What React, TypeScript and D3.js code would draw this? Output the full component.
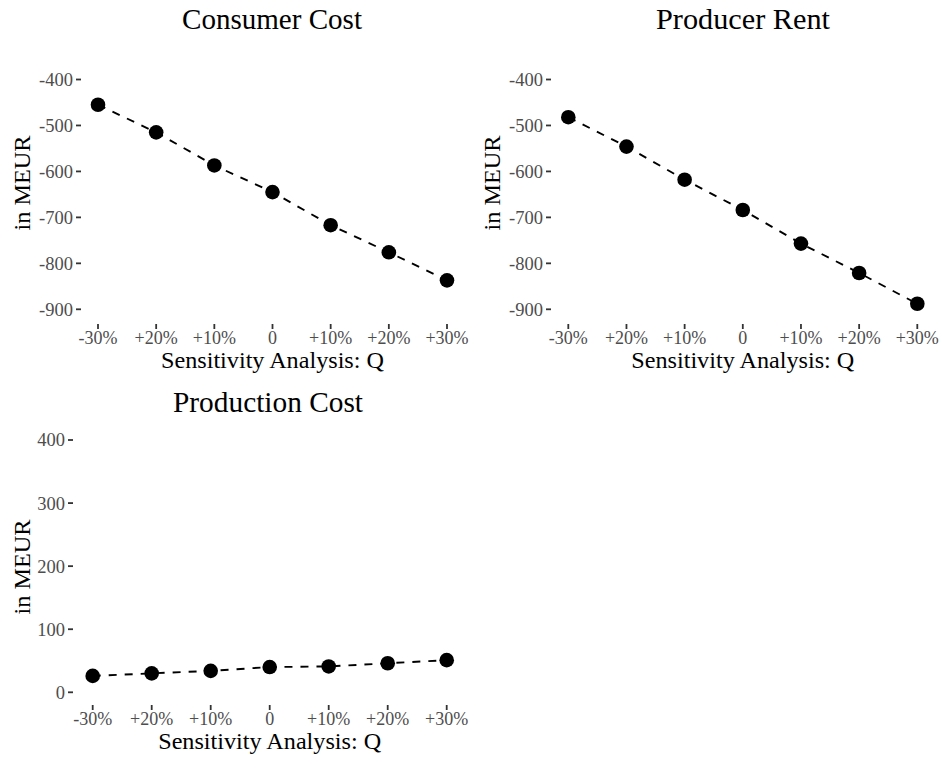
import React from "react";
import * as d3 from "d3";

const categories = ["-30%", "+20%", "+10%", "0", "+10%", "+20%", "+30%"];
const consumerCost = [-455, -515, -587, -645, -717, -776, -837];
const producerRent = [-482, -546, -618, -684, -757, -821, -888];
const productionCost = [26, 30, 34, 40, 41, 46, 51];
const negTicks = [-400, -500, -600, -700, -800, -900];
const posTicks = [0, 100, 200, 300, 400];

const FONT = "Liberation Serif";

type PanelProps = {
  title: string;
  values: number[];
  ticks: number[];
  yDomain: [number, number];
  yRange: [number, number];
  xRange: [number, number];
  axisX: number;
  xAxisY: number;
  titleX: number;
  titleY: number;
  titleW: number;
  yTitleX: number;
  yTitleY: number;
};

function Panel(p: PanelProps) {
  const idx = categories.map((_, i) => i);
  const x = d3.scalePoint<number>().domain(idx).range(p.xRange);
  const y = d3.scaleLinear().domain(p.yDomain).range(p.yRange);
  const line = d3
    .line<number>()
    .x((_, i) => x(i) as number)
    .y((d) => y(d));
  const xMid = (p.xRange[0] + p.xRange[1]) / 2;
  return (
    <g>
      <text
        x={p.titleX}
        y={p.titleY}
        textAnchor="middle"
        fontSize={29}
        fontFamily={FONT}
        fill="#000"
        textLength={p.titleW}
        lengthAdjust="spacingAndGlyphs"
      >
        {p.title}
      </text>
      {p.ticks.map((t) => (
        <g key={t}>
          <line x1={p.axisX - 5} x2={p.axisX} y1={y(t)} y2={y(t)} stroke="#333" strokeWidth={1.8} />
          <text
            x={p.axisX - 8}
            y={y(t)}
            dy="0.35em"
            textAnchor="end"
            fontSize={18.5}
            fontFamily={FONT}
            fill="#4d4d4d"
          >
            {t}
          </text>
        </g>
      ))}
      {categories.map((c, i) => (
        <g key={i}>
          <line
            x1={x(i)}
            x2={x(i)}
            y1={p.xAxisY}
            y2={p.xAxisY + 5}
            stroke="#333"
            strokeWidth={1.8}
          />
          <text
            x={x(i)}
            y={p.xAxisY + 20}
            textAnchor="middle"
            fontSize={18}
            fontFamily={FONT}
            fill="#4d4d4d"
          >
            {c}
          </text>
        </g>
      ))}
      <text
        x={xMid}
        y={p.xAxisY + 44}
        textAnchor="middle"
        fontSize={24}
        fontFamily={FONT}
        fill="#000"
        textLength={223}
        lengthAdjust="spacingAndGlyphs"
      >
        Sensitivity Analysis: Q
      </text>
      <text
        transform={`translate(${p.yTitleX},${p.yTitleY}) rotate(-90)`}
        textAnchor="middle"
        fontSize={24}
        fontFamily={FONT}
        fill="#000"
        textLength={95}
        lengthAdjust="spacingAndGlyphs"
      >
        in MEUR
      </text>
      <path
        d={line(p.values) || ""}
        fill="none"
        stroke="#000"
        strokeWidth={1.9}
        strokeDasharray="8,8"
      />
      {p.values.map((v, i) => (
        <circle key={i} cx={x(i)} cy={y(v)} r={7.3} fill="#000" />
      ))}
    </g>
  );
}

export default function App() {
  return (
    <svg
      width={941}
      height={760}
      style={{ position: "absolute", left: 0, top: 0, background: "#fff" }}
    >
      <rect width={941} height={760} fill="#fff" />
      <Panel
        title="Consumer Cost"
        values={consumerCost}
        ticks={negTicks}
        yDomain={[-400, -900]}
        yRange={[79.5, 309.3]}
        xRange={[98, 447]}
        axisX={81}
        xAxisY={324}
        titleX={272}
        titleY={29}
        titleW={180}
        yTitleX={30}
        yTitleY={183}
      />
      <Panel
        title="Producer Rent"
        values={producerRent}
        ticks={negTicks}
        yDomain={[-400, -900]}
        yRange={[79.5, 309.3]}
        xRange={[568.3, 917.3]}
        axisX={551}
        xAxisY={324}
        titleX={743}
        titleY={29}
        titleW={174}
        yTitleX={500}
        yTitleY={183}
      />
      <Panel
        title="Production Cost"
        values={productionCost}
        ticks={posTicks}
        yDomain={[0, 400]}
        yRange={[692.3, 440]}
        xRange={[92.7, 446.7]}
        axisX={73}
        xAxisY={705}
        titleX={268}
        titleY={412}
        titleW={190}
        yTitleX={30}
        yTitleY={567}
      />
    </svg>
  );
}
